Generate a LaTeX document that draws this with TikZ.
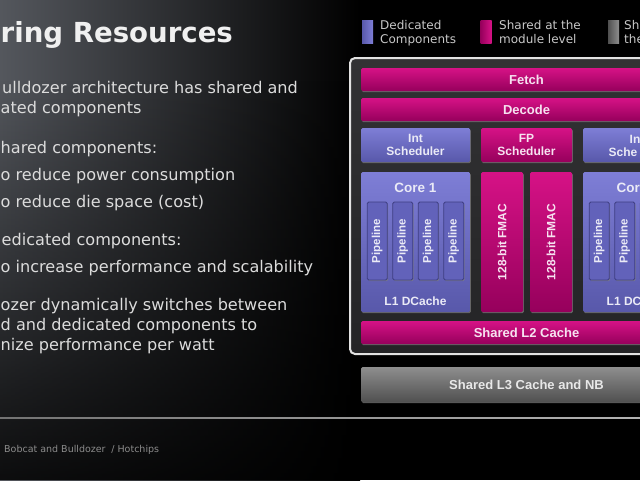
\documentclass[tikz,border=0pt]{standalone}
\usepackage{fontspec}
\setmainfont{DejaVu Sans}
\newfontfamily\blockfont{Liberation Sans}
\usetikzlibrary{shadows,fadings}

\definecolor{bgtop}{RGB}{84,87,93}
\definecolor{bgmid}{RGB}{66,68,73}
\definecolor{slidetext}{RGB}{220,220,220}
\definecolor{legendtext}{RGB}{200,200,200}
\definecolor{magtop}{RGB}{214,18,134}
\definecolor{magbot}{RGB}{150,0,92}
\definecolor{magtext}{RGB}{246,226,240}
\definecolor{bluetop}{RGB}{126,126,214}
\definecolor{bluebot}{RGB}{88,88,170}
\definecolor{bluetext}{RGB}{234,234,246}
\definecolor{pipefill}{RGB}{98,98,186}
\definecolor{pipeline}{RGB}{62,62,130}
\definecolor{graytop}{RGB}{142,142,142}
\definecolor{graybot}{RGB}{80,80,80}
\definecolor{graytext}{RGB}{232,232,232}
\definecolor{modtop}{RGB}{50,50,52}
\definecolor{modbot}{RGB}{36,36,38}
\definecolor{outline}{RGB}{226,226,226}

\begin{document}
\begin{tikzpicture}[x=1pt,y=-1pt,
    bullet/.style={anchor=base west,inner sep=0pt,text=slidetext,
      font=\fontsize{16.1}{19}\selectfont},
    legtext/.style={anchor=base west,inner sep=0pt,text=legendtext,
      font=\fontsize{12}{14}\selectfont},
    legsq/.style={minimum width=11pt,minimum height=23pt,inner sep=0pt},
    blk/.style={rounded corners=1.5pt,inner sep=0pt,align=center,
      font=\blockfont\bfseries\fontsize{12}{13}\selectfont,
      drop shadow={shadow xshift=0.8pt,shadow yshift=-1.2pt,opacity=0.7}},
    magbox/.style={blk,top color=magtop,bottom color=magbot,text=magtext},
    bluebox/.style={blk,top color=bluetop,bottom color=bluebot,text=bluetext},
    graybox/.style={blk,top color=graytop,bottom color=graybot,text=graytext},
    pipebox/.style={blk,rotate=90,minimum width=78pt,minimum height=20pt,
      fill=pipefill,draw=pipeline,line width=0.8pt,text=bluetext,
      font=\blockfont\bfseries\fontsize{11.5}{12}\selectfont},
    fmacbox/.style={magbox,rotate=90,minimum width=140pt,minimum height=42pt},
    frag/.style={anchor=base west,inner sep=0pt,text=bluetext}
  ]

    % page, pixel grid with y going down
    \useasboundingbox (0,0) rectangle (640,480);
    \clip (0,0) rectangle (640,480);

    % background
    \fill[black] (0,0) rectangle (640,480);
    \shade[left color=bgtop,middle color=bgmid,right color=black] (0,0) rectangle (360,480);
    \fill[black,path fading=north,fill opacity=0.85] (0,80) rectangle (360,480);
    \shade[left color=black!55!white,right color=black!30!white] (0,417.3) rectangle (640,418.7);

    % title and text
    \node[anchor=base west,inner sep=0pt,text=white!94!black,
      font=\fontsize{27.6}{30}\selectfont\bfseries] (title) at (0.5,42) {ring Resources};

    \node[bullet] (txtA) at (2,93) {ulldozer architecture has shared and};
    \node[bullet] (txtB) at (0.5,113) {ated components};
    \node[bullet] (txtC) at (0.5,153) {hared components:};
    \node[bullet] (txtD) at (0.5,180) {o reduce power consumption};
    \node[bullet] (txtE) at (0.5,207) {o reduce die space (cost)};
    \node[bullet] (txtF) at (1.5,245) {edicated components:};
    \node[bullet] (txtG) at (0.5,272) {o increase performance and scalability};
    \node[bullet] (txtH) at (0.5,310) {ozer dynamically switches between};
    \node[bullet] (txtI) at (0.5,330) {d and dedicated components to};
    \node[bullet] (txtJ) at (0.5,350) {nize performance per watt};

    \node[anchor=base west,inner sep=0pt,text=black!45!white,
      font=\fontsize{9.5}{11}\selectfont] (foot) at (4,452) {Bobcat and Bulldozer\hspace{0.6em}/ Hotchips};

    % legend
    \node[legsq,left color=bluebot,right color=bluetop] (sqDed) at (367.5,31.5) {};
    \node[legtext] (legDedA) at (380,29) {Dedicated};
    \node[legtext] (legDedB) at (380,43) {Components};
    \node[legsq,left color=magbot,right color=magtop] (sqMod) at (486,31.5) {};
    \node[legtext] (legModA) at (499,29) {Shared at the};
    \node[legtext] (legModB) at (499,43) {module level};
    \node[legsq,left color=graybot,right color=graytop] (sqChip) at (613.5,31.5) {};
    \node[legtext] (legChipA) at (624,29) {Sh};
    \node[legtext] (legChipB) at (624,43) {the};

    % module
    \draw[line width=2pt,draw=outline,top color=modtop,bottom color=modbot,
      rounded corners=5pt] (350,58) rectangle (703,354);

    \node[magbox,minimum width=331pt,minimum height=23pt,
      font=\blockfont\bfseries\fontsize{13}{14}\selectfont] (fetch) at (526.5,79.5) {Fetch};
    \node[magbox,minimum width=331pt,minimum height=23pt,
      font=\blockfont\bfseries\fontsize{13}{14}\selectfont] (decode) at (526.5,109.5) {Decode};

    \node[bluebox,minimum width=109pt,minimum height=34pt] (intA) at (415.5,145) {Int\\Scheduler};
    \node[magbox,minimum width=91pt,minimum height=34pt] (fpsched) at (526.5,145) {FP\\Scheduler};
    \node[bluebox,minimum width=109pt,minimum height=34pt] (intB) at (637.5,145) {};

    \node[bluebox,minimum width=109pt,minimum height=140pt] (coreA) at (415.5,242) {};
    \node[bluebox,minimum width=109pt,minimum height=140pt] (coreB) at (637.5,242) {};
    \node[anchor=base,inner sep=0pt,text=bluetext,
      font=\blockfont\bfseries\fontsize{13.5}{14}\selectfont] (coreAname) at (415.5,192) {Core 1};
    \node[anchor=base,inner sep=0pt,text=bluetext,
      font=\blockfont\bfseries\fontsize{12}{13}\selectfont] (dcacheA) at (415.5,305) {L1 DCache};

    \foreach \px [count=\i] in {377.25,402.75,428.25,453.75}
      \node[pipebox] (pipeA\i) at (\px,241) {Pipeline};
    \foreach \px [count=\i] in {599.25,624.75}
      \node[pipebox] (pipeB\i) at (\px,241) {Pipeline};
    \node[pipebox] (pipeB3) at (650.25,241) {};

    % second core, cut at the page edge
    \node[frag,font=\blockfont\bfseries\fontsize{12}{13}\selectfont] (intBa) at (629.5,143) {In};
    \node[frag,font=\blockfont\bfseries\fontsize{12}{13}\selectfont] (intBb) at (608.5,156) {Sche};
    \node[frag,font=\blockfont\bfseries\fontsize{13.5}{14}\selectfont] (coreBname) at (616.5,192) {Core};
    \node[frag,font=\blockfont\bfseries\fontsize{12}{13}\selectfont] (dcacheB) at (606.5,305) {L1 DC};

    \node[fmacbox] (fmacA) at (502,242) {128-bit FMAC};
    \node[fmacbox] (fmacB) at (551,242) {128-bit FMAC};

    \node[magbox,minimum width=331pt,minimum height=23pt,
      font=\blockfont\bfseries\fontsize{13}{14}\selectfont] (ltwo) at (526.5,332.5) {Shared L2 Cache};

    % chip level
    \node[graybox,minimum width=331pt,minimum height=35pt,
      font=\blockfont\bfseries\fontsize{13}{14}\selectfont] (lthree) at (526.5,384.5) {Shared L3 Cache and NB};

\end{tikzpicture}
\end{document}
